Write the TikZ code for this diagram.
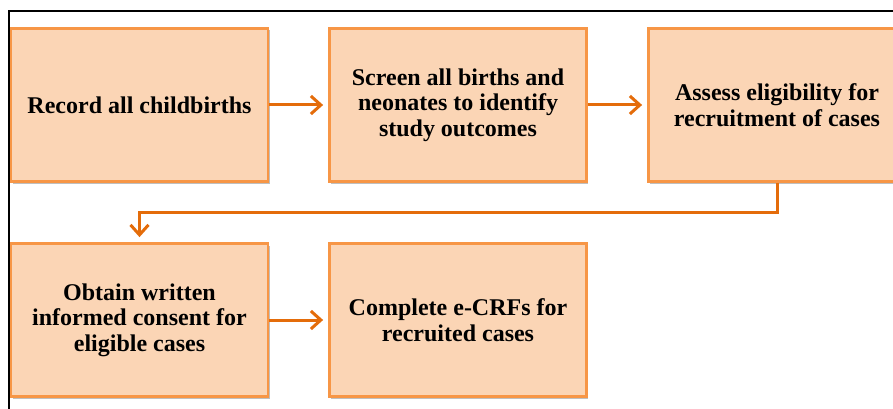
\documentclass[tikz,border=0pt]{standalone}
\usepackage{fontspec}
\setmainfont{Liberation Serif}
\usetikzlibrary{arrows.meta,shadows}
\definecolor{boxfill}{HTML}{FBD5B5}
\definecolor{boxline}{HTML}{F79646}
\definecolor{arrcol}{HTML}{E46C0A}
\tikzset{
  stepbox/.style={rectangle, draw=boxline, fill=boxfill, line width=2.8pt,
    minimum width=257pt, minimum height=153pt, align=center, inner sep=0pt,
    font=\fontsize{24}{25.5}\selectfont\bfseries,
    drop shadow={shadow xshift=1.5pt, shadow yshift=-2pt, opacity=0.25, fill=black}},
  arr/.style={draw=arrcol, line width=3pt,
    -{Straight Barb[length=10pt,width=18pt,line width=3pt]}, shorten >=5pt},
  frame/.style={draw=black, line width=1.5pt}
}
\begin{document}
\begin{tikzpicture}[x=1pt,y=-1pt]
\useasboundingbox (0,0) rectangle (893,409);
\clip (0,0) rectangle (893,409);
\fill[white] (0,0) rectangle (893,409);
\draw[frame] (893,11) -- (9,11) -- (9,410);
\node[stepbox] (a) at (139.5,105) {Record all childbirths};
\node[stepbox] (b) at (458,105) {Screen all births and\\neonates to identify\\study outcomes};
\node[stepbox] (c) at (777,105) {Assess eligibility for\\recruitment of cases};
\node[stepbox] (d) at (139.5,320) {Obtain written\\informed consent for\\eligible cases};
\node[stepbox] (e) at (458,320) {Complete e-CRFs for\\recruited cases};
\coordinate (mid) at (0,212);
\draw[arr] (a.east) -- (b.west);
\draw[arr] (b.east) -- (c.west);
\draw[arr] (c.south) -- (c.south |- mid) -| (d.north);
\draw[arr] (d.east) -- (e.west);
\end{tikzpicture}
\end{document}
